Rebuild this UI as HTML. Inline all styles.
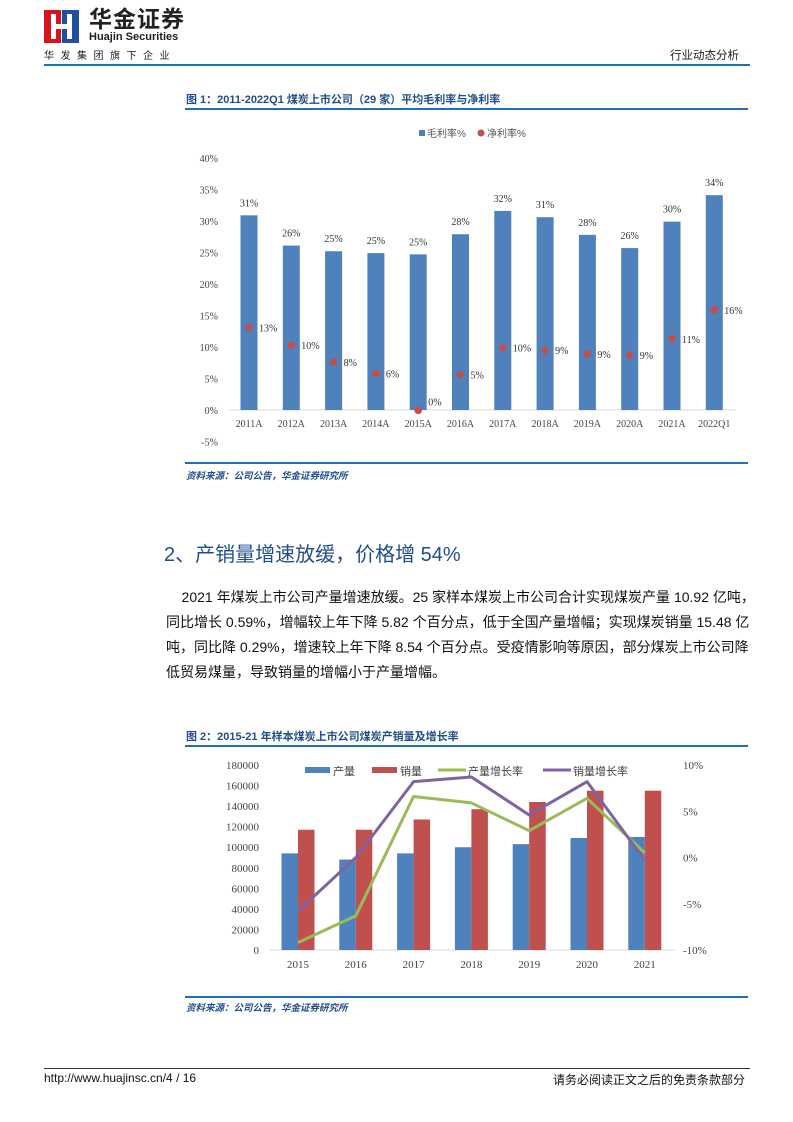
<!DOCTYPE html>
<html><head><meta charset="utf-8">
<style>
body{margin:0;width:793px;height:1122px;background:#fff;position:relative;overflow:hidden;font-family:"Liberation Sans","Noto Sans CJK SC",sans-serif;}
.abs{position:absolute;}
.cap{color:#1f4e8c;font-size:11px;font-weight:bold;}
.src{color:#1f4e8c;font-size:9.5px;font-style:italic;font-weight:bold;}
.hl{position:absolute;height:1.5px;background:#1f6fb5;}
.pl{position:absolute;left:166px;width:582px;font-size:14px;color:#111;text-align:justify;text-align-last:justify;white-space:nowrap;line-height:20px;}
</style></head><body>
<div class="abs" style="left:44px;top:10px;width:35px;height:33px;">
<svg width="35" height="33"><rect x="0" y="0" width="17" height="33" fill="#d7141c"/><rect x="18" y="0" width="17" height="33" fill="#1f4ea3"/><rect x="7" y="14" width="21" height="5" fill="#fff"/><rect x="7" y="4" width="5" height="25" fill="#fff"/><rect x="23" y="4" width="5" height="25" fill="#fff"/></svg></div>
<div class="abs" style="left:89px;top:7px;font-size:23px;line-height:24px;font-weight:bold;color:#222;letter-spacing:1px;">华金证券</div>
<div class="abs" style="left:89px;top:31px;font-size:11px;line-height:13px;font-weight:bold;color:#222;">Huajin Securities</div>
<div class="abs" style="left:44px;top:47px;font-size:10px;color:#222;letter-spacing:6.5px;">华发集团旗下企业</div>
<div class="abs" style="left:670px;top:47px;font-size:11.5px;color:#222;">行业动态分析</div>
<div class="hl" style="left:44px;top:64px;width:706px;height:2px;"></div>

<div class="abs cap" style="left:186px;top:91px;">图 1：2011-2022Q1 煤炭上市公司（29 家）平均毛利率与净利率</div>
<div class="hl" style="left:185px;top:108px;width:563px;"></div>
<svg class="abs" style="left:0;top:0" width="793" height="1122" id="c1"></svg>
<div class="hl" style="left:185px;top:462px;width:563px;"></div>
<div class="abs src" style="left:186px;top:468px;">资料来源：公司公告，华金证券研究所</div>

<div class="abs" style="left:164px;top:538px;font-size:20px;color:#1f4e8c;">2、产销量增速放缓，价格增 54%</div>
<div class="pl" style="top:587px;">&nbsp;&nbsp;&nbsp;&nbsp;2021 年煤炭上市公司产量增速放缓。25 家样本煤炭上市公司合计实现煤炭产量 10.92 亿吨，</div>
<div class="pl" style="top:612px;">同比增长 0.59%，增幅较上年下降 5.82 个百分点，低于全国产量增幅；实现煤炭销量 15.48 亿</div>
<div class="pl" style="top:637px;">吨，同比降 0.29%，增速较上年下降 8.54 个百分点。受疫情影响等原因，部分煤炭上市公司降</div>
<div class="pl" style="top:662px;text-align-last:left;text-align:left;">低贸易煤量，导致销量的增幅小于产量增幅。</div>

<div class="abs cap" style="left:186px;top:728px;">图 2：2015-21 年样本煤炭上市公司煤炭产销量及增长率</div>
<div class="hl" style="left:185px;top:745px;width:563px;"></div>
<div class="hl" style="left:185px;top:996px;width:563px;"></div>
<div class="abs src" style="left:186px;top:1000px;">资料来源：公司公告，华金证券研究所</div>

<div class="abs" style="left:44px;top:1068px;width:706px;height:1px;background:#333;"></div>
<div class="abs" style="left:44px;top:1071px;font-size:12px;color:#111;">http://www.huajinsc.cn/4 / 16</div>
<div class="abs" style="left:553px;top:1071px;font-size:12px;color:#111;">请务必阅读正文之后的免责条款部分</div>

<script>
const years1=["2011A","2012A","2013A","2014A","2015A","2016A","2017A","2018A","2019A","2020A","2021A","2022Q1"];
const gross=[30.9,26.1,25.2,24.9,24.7,27.9,31.6,30.6,27.8,25.7,29.9,34.1];
const grossLabels=["31%","26%","25%","25%","25%","28%","32%","31%","28%","26%","30%","34%"];
const net=[13.1,10.3,7.6,5.8,-0.05,5.6,9.9,9.5,8.9,8.7,11.3,15.9];
const netLabels=["13%","10%","8%","6%","0%","5%","10%","9%","9%","9%","11%","16%"];
const ticks1=[40,35,30,25,20,15,10,5,0,-5];

const years2=["2015","2016","2017","2018","2019","2020","2021"];
const prod=[94000,88000,94000,100000,103000,109000,110000];
const sales=[117000,117000,127000,137000,144000,155000,155000];
const prodG=[-9.2,-6.3,6.6,5.9,2.9,6.4,0.5];
const salesG=[-5.8,0.0,8.2,8.7,4.6,8.2,-0.3];
const ticksL=[0,20000,40000,60000,80000,100000,120000,140000,160000,180000];
const ticksR=[10,5,0,-5,-10];

const NS="http://www.w3.org/2000/svg";
const svg=document.getElementById('c1');
function mk(t,a,txt){const e=document.createElementNS(NS,t);for(const k in a)e.setAttribute(k,a[k]);if(txt!==undefined)e.textContent=txt;svg.appendChild(e);return e;}
const SER='"Liberation Serif","Noto Serif CJK SC",serif';

// chart 1
const y1=v=>410-v*6.3;
const x1=i=>249+i*42.3;
mk('line',{x1:229,x2:736,y1:410,y2:410,stroke:'#d9d9d9'});
ticks1.forEach(t=>{const e=mk('text',{x:218,y:y1(t)+4,'text-anchor':'end','font-size':10,'font-family':SER,fill:'#444'},t+'%');
});
years1.forEach((c,i)=>{
 const b=mk('rect',{x:x1(i)-8.5,y:y1(gross[i]),width:17,height:y1(0)-y1(gross[i]),fill:'#4f81bd'});
 
 const l=mk('text',{x:x1(i),y:y1(gross[i])-9,'text-anchor':'middle','font-size':10,'font-family':SER,fill:'#333'},grossLabels[i]);
 
 const d=mk('circle',{cx:x1(i),cy:y1(net[i]),r:3.8,fill:'#c0504d'});
 
 const n=mk('text',{x:x1(i)+10,y:y1(net[i])+(i==4?-5:4),'font-size':10,'font-family':SER,fill:'#333'},netLabels[i]);
 
 const xl=mk('text',{x:x1(i),y:427,'text-anchor':'middle','font-size':10,'font-family':SER,fill:'#444'},c);
 
});
let lg=mk('rect',{x:419,y:130,width:6,height:6,fill:'#4f81bd'});
lg=mk('text',{x:427,y:137,'font-size':10,fill:'#555'},'毛利率%');
lg=mk('circle',{cx:481,cy:133,r:3.5,fill:'#c0504d'});
lg=mk('text',{x:487,y:137,'font-size':10,fill:'#555'},'净利率%');

// chart 2
const yL=v=>950-v*185/180000;
const yR=v=>857.5-v*9.25;
const x2=i=>298+i*57.8;
mk('line',{x1:270,x2:675,y1:950,y2:950,stroke:'#d9d9d9'});
ticksL.forEach(t=>{const e=mk('text',{x:259,y:yL(t)+4,'text-anchor':'end','font-size':11,'font-family':SER,fill:'#444'},t);
});
ticksR.forEach(t=>{const e=mk('text',{x:683,y:yR(t)+4,'font-size':11,'font-family':SER,fill:'#444'},t+'%');
});
years2.forEach((c,i)=>{
 const a=mk('rect',{x:x2(i)-16.5,y:yL(prod[i]),width:16.5,height:950-yL(prod[i]),fill:'#4f81bd'});
 
 const b=mk('rect',{x:x2(i),y:yL(sales[i]),width:16.5,height:950-yL(sales[i]),fill:'#c0504d'});
 
 const xl=mk('text',{x:x2(i),y:968,'text-anchor':'middle','font-size':11,'font-family':SER,fill:'#444'},c);
 
});
let pl=mk('polyline',{points:prodG.map((v,i)=>x2(i)+','+yR(v)).join(' '),fill:'none',stroke:'#9bbb59','stroke-width':3,'stroke-linejoin':'round'});

pl=mk('polyline',{points:salesG.map((v,i)=>x2(i)+','+yR(v)).join(' '),fill:'none',stroke:'#8064a2','stroke-width':3,'stroke-linejoin':'round'});

lg=mk('rect',{x:305,y:767,width:25,height:6,fill:'#4f81bd'});
lg=mk('text',{x:333,y:775,'font-size':11,fill:'#444'},'产量');
lg=mk('rect',{x:372,y:767,width:25,height:6,fill:'#c0504d'});
lg=mk('text',{x:400,y:775,'font-size':11,fill:'#444'},'销量');
lg=mk('line',{x1:438,x2:466,y1:770,y2:770,stroke:'#9bbb59','stroke-width':3});
lg=mk('text',{x:468,y:775,'font-size':11,fill:'#444'},'产量增长率');
lg=mk('line',{x1:543,x2:571,y1:770,y2:770,stroke:'#8064a2','stroke-width':3});
lg=mk('text',{x:573,y:775,'font-size':11,fill:'#444'},'销量增长率');
</script>
</body></html>
